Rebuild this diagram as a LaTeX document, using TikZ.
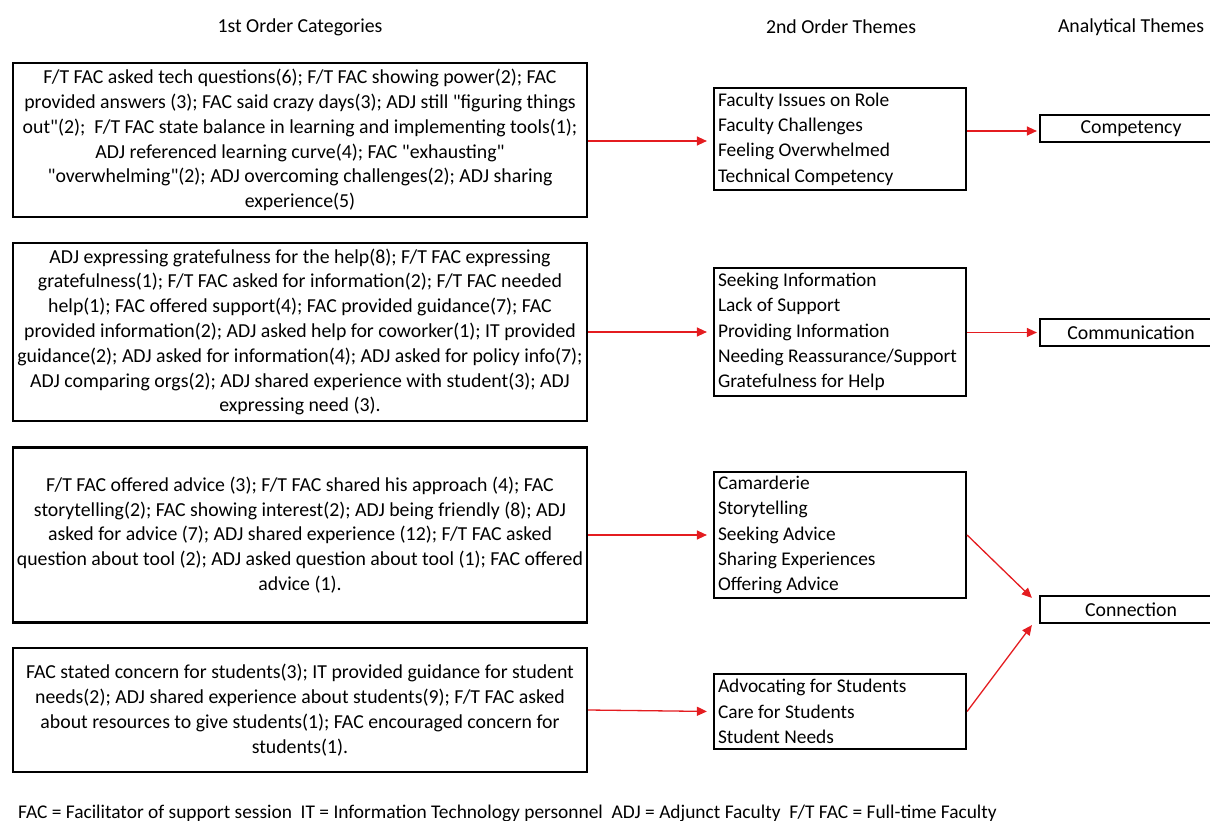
\documentclass[tikz,border=0pt]{standalone}
\usepackage{fontspec}
\setmainfont{Carlito}
\usetikzlibrary{arrows.meta,calc}
\definecolor{arrred}{RGB}{228,28,32}
\newcommand{\qq}{\textquotedbl{}}
\hyphenpenalty=10000
\exhyphenpenalty=10000
\begin{document}
\begin{tikzpicture}[x=1pt,y=-1pt,
  every node/.style={font=\fontsize{19.8}{24.8}\selectfont},
  catbox/.style={draw=black,line width=2.2pt,minimum width=574pt,align=center,inner sep=0pt},
  themebox/.style={draw=black,line width=2.2pt,minimum width=252pt,text width=244pt,align=flush left,inner xsep=4pt,inner ysep=0pt,font=\fontsize{19.4}{25.3}\selectfont},
  anbox/.style={draw=black,line width=2.2pt,minimum width=182pt,minimum height=27pt,inner sep=0pt},
  hdr/.style={inner sep=0pt},
  arr/.style={draw=arrred,line width=1.3pt,-{Triangle[length=10pt,width=9pt]}}]
\useasboundingbox (0,0) rectangle (1210,821);
\clip (0,0) rectangle (1210,821);
% headers
\node[hdr] (h1) at (300,27) {1st Order Categories};
\node[hdr] (h2) at (841,27) {2nd Order Themes};
\node[hdr] (h3) at (1131,27) {Analytical Themes};
% first order
\node[catbox,minimum height=154pt] (c1) at (300,140) {F/T FAC asked tech questions(6); F/T FAC showing power(2); FAC\\provided answers (3); FAC said crazy days(3); ADJ still \qq figuring things\\out\qq(2); \ F/T FAC state balance in learning and implementing tools(1);\\ADJ referenced learning curve(4); FAC \qq exhausting\qq\\\qq overwhelming\qq(2); ADJ overcoming challenges(2); ADJ sharing\\experience(5)};
\node[catbox,minimum height=178pt] (c2) at (300,332) {ADJ expressing gratefulness for the help(8); F/T FAC expressing\\gratefulness(1); F/T FAC asked for information(2); F/T FAC needed\\help(1); FAC offered support(4); FAC provided guidance(7); FAC\\provided information(2); ADJ asked help for coworker(1); IT provided\\guidance(2); ADJ asked for information(4); ADJ asked for policy info(7);\\ADJ comparing orgs(2); ADJ shared experience with student(3); ADJ\\expressing need (3).};
\node[catbox,minimum height=175pt] (c3) at (300,535) {F/T FAC offered advice (3); F/T FAC shared his approach (4); FAC\\storytelling(2); FAC showing interest(2); ADJ being friendly (8); ADJ\\asked for advice (7); ADJ shared experience (12); F/T FAC asked\\question about tool (2); ADJ asked question about tool (1); FAC offered\\advice (1).};
\node[catbox,minimum height=124pt] (c4) at (300,710) {FAC stated concern for students(3); IT provided guidance for student\\needs(2); ADJ shared experience about students(9); F/T FAC asked\\about resources to give students(1); FAC encouraged concern for\\students(1).};
% second order
\node[themebox,minimum height=102pt] (t1) at (840,139) {Faculty Issues on Role\\Faculty Challenges\\Feeling Overwhelmed\\Technical Competency};
\node[themebox,minimum height=128pt] (t2) at (840,332) {Seeking Information\\Lack of Support\\Providing Information\\Needing Reassurance/Support\\Gratefulness for Help};
\node[themebox,minimum height=126pt] (t3) at (840,535) {Camarderie\\Storytelling\\Seeking Advice\\Sharing Experiences\\Offering Advice};
\node[themebox,minimum height=75pt] (t4) at (840,711.5) {Advocating for Students\\Care for Students\\Student Needs};
% analytical
\node[anbox] (a1) at (1131,128.5) {Competency};
\node[anbox] (a2) at (1131,332.5) {Communication};
\node[anbox] (a3) at (1131,609.5) {Connection};
% arrows
\draw[arr,shorten >=6pt] (c1.east |- 0,141) -- (t1.west |- 0,141);
\draw[arr,shorten >=6pt] (c2.east) -- (t2.west);
\draw[arr,shorten >=6pt] (c3.east) -- (t3.west);
\draw[arr,shorten >=6pt] (c4.east) -- (t4.west);
\draw[arr,shorten >=2pt] (t1.east |- 0,131) -- (a1.west |- 0,131);
\draw[arr,shorten >=2pt] (t2.east |- a2.west) -- (a2.west);
\draw[arr] (t3.east) -- ($(a3.north west)+(-7,3)$);
\draw[arr] (t4.east) -- ($(a3.south west)+(-7,1)$);
% footer
\node[hdr,anchor=west,font=\fontsize{19.4}{24}\selectfont] (ft) at (18,813) {FAC = Facilitator of support session \ IT = Information Technology personnel \ ADJ = Adjunct Faculty \ F/T FAC = Full-time Faculty};
\end{tikzpicture}
\end{document}
